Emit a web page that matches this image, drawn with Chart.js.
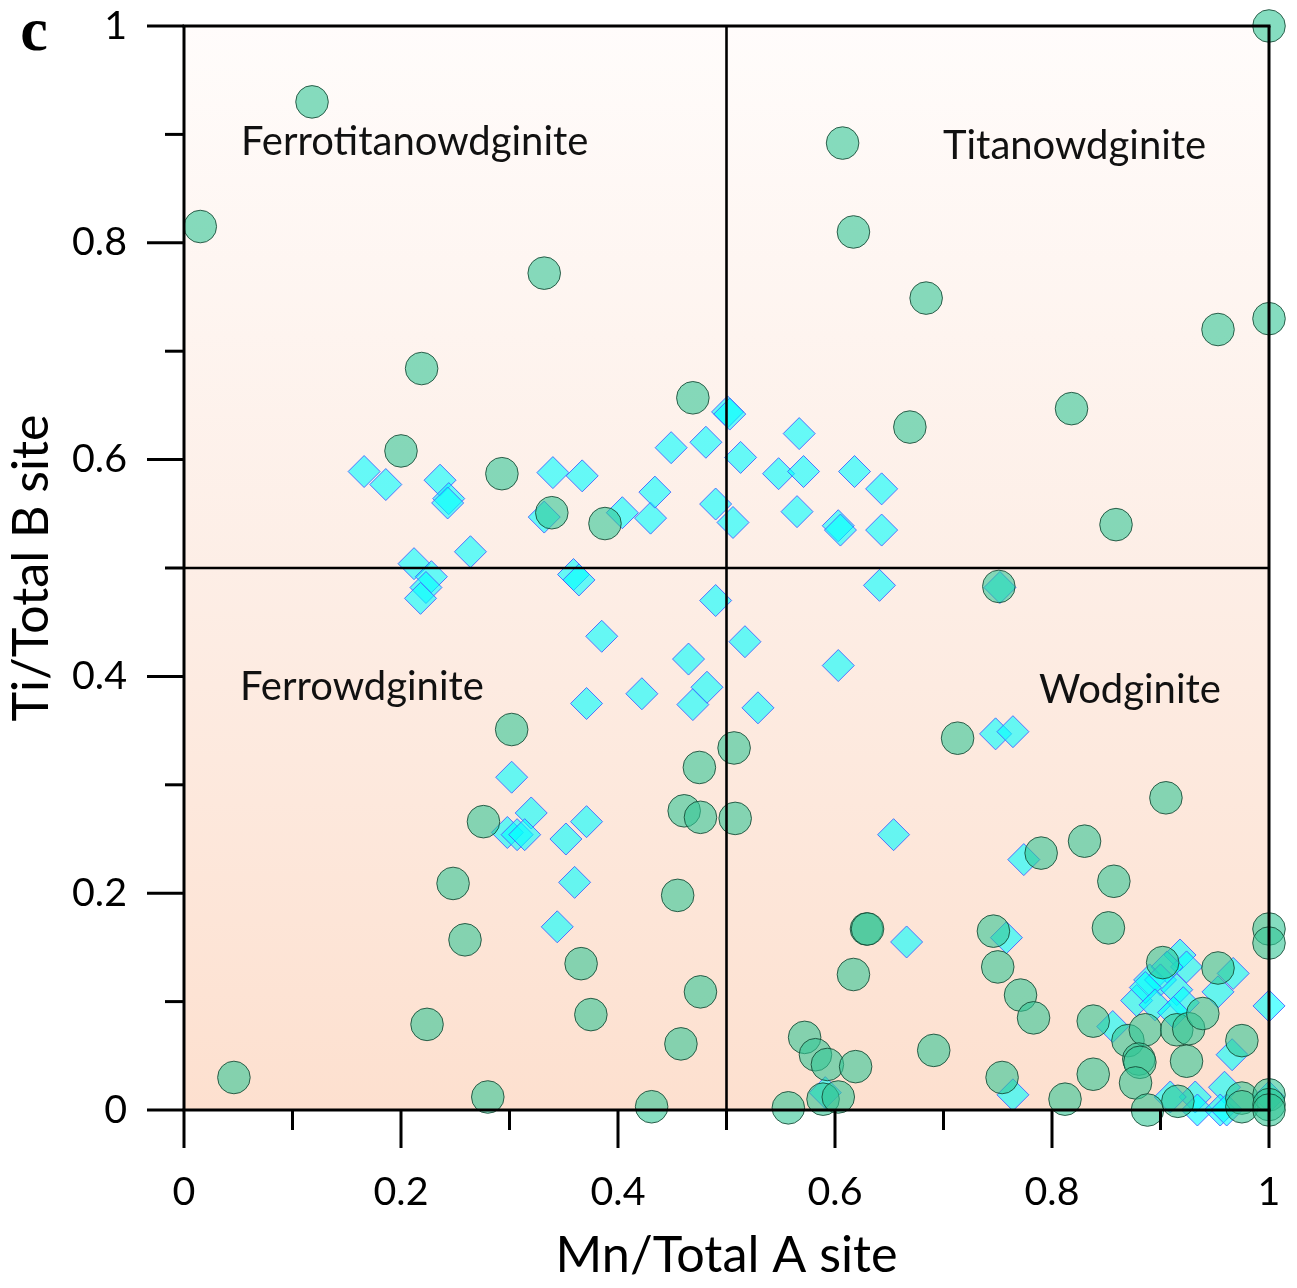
<!DOCTYPE html>
<html>
<head>
<meta charset="utf-8">
<script src="https://cdn.jsdelivr.net/npm/chart.js@4.4.1/dist/chart.umd.min.js"></script>
<style>
  html, body { margin: 0; padding: 0; background: #ffffff; }
  #wrap { width: 1297px; height: 1288px; }
</style>
</head>
<body>
<div id="wrap"><canvas id="c" width="1297" height="1288"></canvas></div>
<script>
// ---------- DATA ----------
const circleX = [0.118,0.015,0.607,0.617,0.332,0.684,0.953,1.0,1.0,0.219,0.469,0.669,0.818,0.200,0.293,0.339,0.388,0.859,0.751,0.302,0.713,0.507,0.475,0.905,0.276,0.461,0.476,0.508,0.830,0.790,0.248,0.455,0.857,0.259,0.629,0.630,0.746,0.852,1.0,1.0,0.366,0.617,0.750,0.902,0.953,0.476,0.771,0.375,0.224,0.783,0.838,0.870,0.886,0.915,0.926,0.939,0.975,0.880,0.881,0.877,0.838,0.924,0.888,0.916,0.975,0.975,1.0,1.0,1.0,0.572,0.582,0.593,0.619,0.458,0.691,0.046,0.280,0.431,0.557,0.589,0.603,0.754,0.812];
const circleY = [0.930,0.815,0.892,0.810,0.772,0.749,0.720,0.730,1.0,0.684,0.657,0.630,0.647,0.608,0.587,0.551,0.541,0.540,0.483,0.351,0.343,0.334,0.316,0.288,0.266,0.276,0.270,0.269,0.248,0.237,0.209,0.198,0.211,0.157,0.167,0.167,0.165,0.168,0.167,0.154,0.135,0.125,0.132,0.136,0.131,0.109,0.106,0.088,0.079,0.085,0.082,0.064,0.074,0.074,0.075,0.089,0.064,0.047,0.044,0.025,0.033,0.045,0.000,0.008,0.011,0.003,0.014,0.005,0.0,0.067,0.051,0.042,0.040,0.061,0.055,0.030,0.012,0.003,0.002,0.010,0.012,0.030,0.010];

const diamondX = [0.166,0.186,0.236,0.244,0.243,0.264,0.212,0.228,0.223,0.218,0.340,0.367,0.332,0.404,0.430,0.434,0.449,0.481,0.490,0.501,0.503,0.513,0.506,0.548,0.567,0.571,0.565,0.618,0.603,0.605,0.643,0.643,0.641,0.752,0.359,0.364,0.385,0.371,0.422,0.465,0.469,0.482,0.490,0.517,0.529,0.603,0.748,0.764,0.302,0.320,0.298,0.307,0.314,0.352,0.371,0.360,0.344,0.654,0.774,0.666,0.758,0.591,0.764,0.856,0.918,0.924,0.906,0.890,0.900,0.878,0.886,0.895,0.915,0.921,0.912,0.967,0.953,1.0,0.966,0.959,0.932,0.934,0.955,0.961,0.909,1.0];
const diamondY = [0.589,0.577,0.581,0.564,0.560,0.515,0.504,0.492,0.482,0.472,0.588,0.585,0.547,0.551,0.546,0.570,0.611,0.616,0.559,0.644,0.642,0.602,0.542,0.587,0.624,0.589,0.552,0.589,0.539,0.535,0.573,0.535,0.484,0.482,0.494,0.489,0.437,0.375,0.384,0.416,0.374,0.390,0.470,0.432,0.371,0.410,0.347,0.349,0.307,0.274,0.256,0.254,0.254,0.250,0.266,0.210,0.169,0.254,0.231,0.155,0.159,0.016,0.014,0.077,0.143,0.132,0.132,0.120,0.120,0.101,0.113,0.097,0.111,0.099,0.090,0.126,0.109,0.096,0.051,0.021,0.012,0.0,0.0,0.0,0.012,0.012];

const xTickLabels = ['0','0.2','0.4','0.6','0.8','1'];
const yTickLabels = ['0','0.2','0.4','0.6','0.8','1'];
const xTitle = 'Mn/Total A site';
const yTitle = 'Ti/Total B site';
const panelLabel = 'c';
const regionNames = ['Ferrotitanowdginite','Titanowdginite','Ferrowdginite','Wodginite'];
const regionX = [0.0525, 0.6995, 0.0516, 0.788];
const regionY = [0.893, 0.889, 0.390, 0.387];

// ---------- helpers ----------
const FAM = 'Lato, "Open Sans", "DejaVu Sans", sans-serif';
function fitSize(text, family, weight, target) {
  const c = document.createElement('canvas').getContext('2d');
  c.font = weight + ' 100px ' + family;
  return 100 * target / c.measureText(text).width;
}
const tickSize = fitSize('0.8', FAM, 'normal', 55);
const xTitleSize = fitSize(xTitle, FAM, 'normal', 342);
const yTitleSize = fitSize(yTitle, FAM, 'normal', 307);
const regionSize = fitSize(regionNames[0], FAM, 'normal', 347);

const toPts = (xs, ys) => xs.map((x, i) => ({ x: x, y: ys[i] }));

const framePlugin = {
  id: 'frame',
  beforeDatasetsDraw(chart) {
    const { ctx, chartArea: a } = chart;
    ctx.save();
    const g = ctx.createLinearGradient(0, a.top, 0, a.bottom);
    g.addColorStop(0, '#fffcfb');
    g.addColorStop(0.5, '#fdeee6');
    g.addColorStop(1, '#fde0cf');
    ctx.fillStyle = g;
    ctx.fillRect(a.left, a.top, a.right - a.left, a.bottom - a.top);
    ctx.restore();
  },
  afterDatasetsDraw(chart) {
    const { ctx, chartArea: a, scales } = chart;
    const xs = scales.x, ys = scales.y;
    ctx.save();
    ctx.strokeStyle = '#000';
    ctx.lineWidth = 3;
    ctx.lineCap = 'butt';
    const line = (x1, y1, x2, y2) => { ctx.beginPath(); ctx.moveTo(x1, y1); ctx.lineTo(x2, y2); ctx.stroke(); };
    line(a.left - 1.5, a.top, a.right + 1.5, a.top);
    line(a.right, a.top, a.right, a.bottom);
    line(a.left - 1.5, a.bottom, a.right + 1.5, a.bottom);
    line(a.left, a.top, a.left, a.bottom);
    for (let i = 0; i <= 10; i++) {
      const v = i / 10;
      const major = i % 2 === 0;
      const px = xs.getPixelForValue(v);
      line(px, a.bottom, px, a.bottom + (major ? 38 : 20));
      const py = ys.getPixelForValue(v);
      line(a.left - (major ? 37 : 19), py, a.left, py);
    }
    const mx = xs.getPixelForValue(0.5), my = ys.getPixelForValue(0.5);
    ctx.lineWidth = 2.6;
    line(mx, a.top, mx, a.bottom);
    line(a.left, my, a.right, my);
    ctx.restore();
  },
  afterDraw(chart) {
    const { ctx, scales } = chart;
    ctx.save();
    ctx.fillStyle = '#111';
    ctx.font = 'normal ' + regionSize.toFixed(1) + 'px ' + FAM;
    ctx.textAlign = 'left';
    ctx.textBaseline = 'middle';
    regionNames.forEach((t, i) => {
      ctx.fillText(t, scales.x.getPixelForValue(regionX[i]), scales.y.getPixelForValue(regionY[i]));
    });
    ctx.fillStyle = '#000';
    ctx.font = 'bold 62px "Liberation Serif", "DejaVu Serif", serif';
    ctx.textAlign = 'center';
    ctx.fillText(panelLabel, 34, 34);
    ctx.restore();
  }
};

new Chart(document.getElementById('c'), {
  type: 'scatter',
  data: {
    datasets: [
      {
        label: 'circles',
        data: toPts(circleX, circleY),
        pointStyle: 'circle',
        pointRadius: 16.3,
        pointBackgroundColor: 'rgba(52,198,150,0.6)',
        pointBorderColor: 'rgba(20,70,50,0.85)',
        pointBorderWidth: 1,
        clip: false
      },
      {
        label: 'diamonds',
        data: toPts(diamondX, diamondY),
        pointStyle: 'rectRot',
        pointRadius: 16,
        pointBackgroundColor: 'rgba(0,255,255,0.6)',
        pointBorderColor: 'rgba(70,100,255,0.9)',
        pointBorderWidth: 1,
        clip: false
      }
    ]
  },
  options: {
    responsive: false,
    animation: false,
    devicePixelRatio: 1,
    layout: { padding: { top: 26, right: 28, left: 0, bottom: 0 } },
    plugins: { legend: { display: false }, tooltip: { enabled: false } },
    scales: {
      x: {
        type: 'linear', min: 0, max: 1,
        grid: { display: false, drawTicks: false }, border: { display: false },
        ticks: {
          stepSize: 0.2, autoSkip: false, maxRotation: 0,
          color: '#000', padding: 59,
          font: { family: FAM, size: tickSize },
          callback: (v, i) => xTickLabels[i]
        },
        title: {
          display: true, text: xTitle, color: '#000',
          font: { family: FAM, size: xTitleSize }, padding: { top: 0, bottom: 2 }
        },
        afterFit: s => { s.height = 178; s.paddingLeft = 0; s.paddingRight = 0; s.paddingTop = 0; s.paddingBottom = 0; }
      },
      y: {
        type: 'linear', min: 0, max: 1,
        grid: { display: false, drawTicks: false }, border: { display: false },
        ticks: {
          stepSize: 0.2, autoSkip: false,
          color: '#000', padding: 57,
          font: { family: FAM, size: tickSize },
          callback: (v, i) => yTickLabels[i]
        },
        title: {
          display: true, text: yTitle, color: '#000',
          font: { family: FAM, size: yTitleSize }, padding: { top: 2, bottom: 0 }
        },
        afterFit: s => { s.width = 184; s.paddingLeft = 0; s.paddingRight = 0; s.paddingTop = 0; s.paddingBottom = 0; }
      }
    }
  },
  plugins: [framePlugin]
});
</script>
</body>
</html>
